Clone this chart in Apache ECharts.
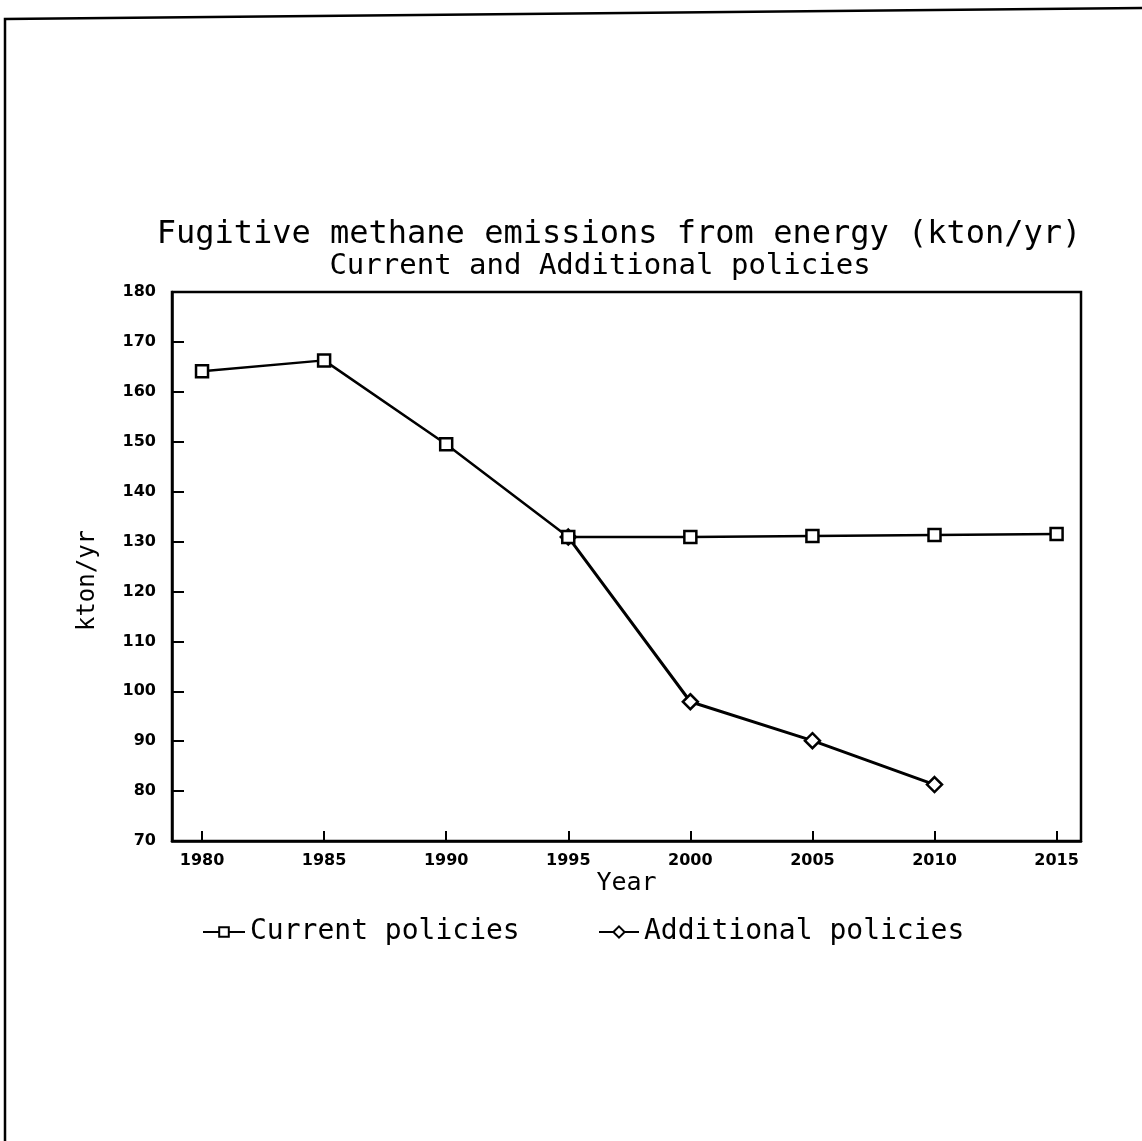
<!DOCTYPE html>
<html>
<head>
<meta charset="utf-8">
<script src="https://cdn.jsdelivr.net/npm/echarts@6/dist/echarts.min.js"></script>
<style>
html,body{margin:0;padding:0;background:#fff;}
#chart{width:1142px;height:1141px;}
</style>
</head>
<body>
<div id="chart"></div>
<script>
const years = [1980, 1985, 1990, 1995, 2000, 2005, 2010, 2015];
const currentPolicies = [164.1, 166.3, 149.5, 130.9, 130.9, 131.1, 131.3, 131.5];
const additionalYears = [1995, 2000, 2005, 2010];
const additionalPolicies = [130.9, 97.9, 90.1, 81.3];
const seriesNames = ['Current policies', 'Additional policies'];
const yTicks = [70, 80, 90, 100, 110, 120, 130, 140, 150, 160, 170, 180];

const mono = 'DejaVu Sans Mono';
const chart = echarts.init(document.getElementById('chart'), null, {renderer: 'canvas'});

const option = {
  backgroundColor: '#fff',
  animation: false,
  title: [
    {
      text: 'Fugitive methane emissions from energy (kton/yr)',
      left: 614, top: 214, textAlign: 'center',
      textStyle: {fontFamily: mono, fontSize: 32, fontWeight: 'normal', color: '#000'}
    },
    {
      text: 'Current and Additional policies',
      left: 595, top: 247, textAlign: 'center',
      textStyle: {fontFamily: mono, fontSize: 29, fontWeight: 'normal', color: '#000'}
    }
  ],
  legend: [
    {
      data: [seriesNames[0]], left: 197, top: 913, itemWidth: 42, itemHeight: 12, itemGap: 0,
      textStyle: {fontFamily: mono, fontSize: 28, color: '#000', padding: [0, 0, 0, 0]}
    },
    {
      data: [seriesNames[1]], left: 593, top: 913, itemWidth: 40, itemHeight: 14, itemGap: 0,
      textStyle: {fontFamily: mono, fontSize: 28, color: '#000', padding: [0, 0, 0, 0]}
    }
  ],
  grid: {
    left: 172, right: 61, top: 292, bottom: 300,
    show: true, borderColor: '#000', borderWidth: 2.5, backgroundColor: 'transparent',
    containLabel: false
  },
  xAxis: {
    type: 'value',
    min: 1978.77, max: 2016,
    splitNumber: 7,
    name: 'Year', nameLocation: 'middle', nameGap: 30,
    nameTextStyle: {fontFamily: mono, fontSize: 25, color: '#000'},
    axisLine: {show: true, lineStyle: {color: '#000', width: 2.5}},
    axisTick: {show: true, inside: true, length: 10, lineStyle: {color: '#000', width: 2}},
    splitLine: {show: false},
    axisLabel: {
      margin: 12, color: '#000', fontFamily: 'DejaVu Sans', fontWeight: 'bold', fontSize: 16,
      formatter: function (v) { return years.indexOf(Math.round(v)) >= 0 && Math.abs(v - Math.round(v)) < 1e-6 ? String(Math.round(v)) : ''; }
    }
  },
  yAxis: {
    type: 'value',
    min: yTicks[0], max: yTicks[yTicks.length - 1], interval: 10,
    name: 'kton/yr', nameLocation: 'middle', nameGap: 72, nameRotate: 90,
    nameTextStyle: {fontFamily: mono, fontSize: 24, color: '#000', padding: [0, 28, 0, 0]},
    axisLine: {show: true, lineStyle: {color: '#000', width: 2.5}},
    axisTick: {show: true, inside: true, length: 12, lineStyle: {color: '#000', width: 2}},
    splitLine: {show: false},
    axisLabel: {margin: 16, color: '#000', fontFamily: 'DejaVu Sans', fontWeight: 'bold', fontSize: 16}
  },
  series: [
    {
      name: seriesNames[0], type: 'line',
      data: years.map((y, i) => [y, currentPolicies[i]]),
      symbol: 'rect', symbolSize: 12,
      lineStyle: {color: '#000', width: 2.5},
      itemStyle: {color: '#fff', borderColor: '#000', borderWidth: 2.5},
      z: 3
    },
    {
      name: seriesNames[1], type: 'line',
      data: additionalYears.map((y, i) => [y, additionalPolicies[i]]),
      symbol: 'diamond', symbolSize: 15,
      lineStyle: {color: '#000', width: 3},
      itemStyle: {color: '#fff', borderColor: '#000', borderWidth: 2.5},
      z: 2
    }
  ],
  graphic: [
    {
      type: 'polyline', silent: true,
      shape: {points: [[5, 1141], [5, 19], [1142, 8]]},
      style: {stroke: '#000', lineWidth: 2.5, fill: null}
    }
  ]
};
chart.setOption(option);
</script>
</body>
</html>
